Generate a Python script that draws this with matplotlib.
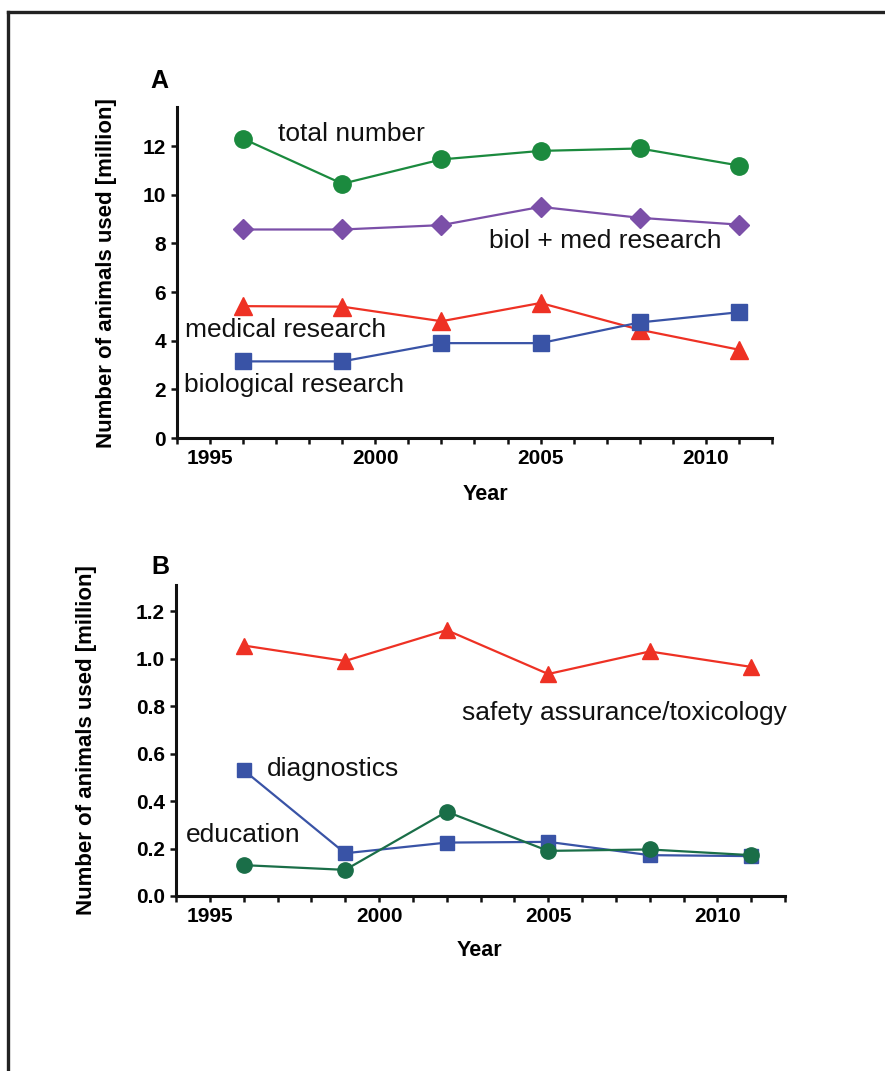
import matplotlib
matplotlib.use("Agg")
import matplotlib.pyplot as plt
from matplotlib.lines import Line2D
from matplotlib.ticker import MultipleLocator

plt.rcParams['font.family'] = ['Liberation Sans', 'DejaVu Sans']

years = [1996, 1999, 2002, 2005, 2008, 2011]

# Panel A (million animals)
total_number = [12.3, 10.45, 11.45, 11.8, 11.9, 11.2]
biol_med = [8.57, 8.57, 8.75, 9.5, 9.05, 8.77]
medical = [5.42, 5.4, 4.8, 5.55, 4.45, 3.63]
biological = [3.15, 3.15, 3.9, 3.9, 4.75, 5.17]

# Panel B (million animals)
safety_tox = [1.055, 0.99, 1.12, 0.935, 1.03, 0.965]
diagnostics = [0.53, 0.18, 0.225, 0.228, 0.172, 0.168]
education = [0.13, 0.11, 0.355, 0.19, 0.196, 0.172]

GREEN = '#1b8a3e'
GREEN_B = '#1a6e48'
PURPLE = '#7b4fa8'
RED = '#ee3124'
BLUE = '#3953a6'

fig = plt.figure(figsize=(8.85, 10.71), dpi=100)

# outer frame lines (top and left)
fig.add_artist(Line2D([8 / 885, 1.0], [1 - 12 / 1071, 1 - 12 / 1071],
                      color='#222222', lw=2.4, transform=fig.transFigure))
fig.add_artist(Line2D([8 / 885, 8 / 885], [0.0, 1 - 12 / 1071],
                      color='#222222', lw=2.4, transform=fig.transFigure))

axA = fig.add_axes([0.200, 0.591, 0.6723, 0.309])
axB = fig.add_axes([0.1989, 0.1634, 0.6881, 0.2904])


def style_axes(ax, ymax, ystep, fmt):
    for s in ('top', 'right'):
        ax.spines[s].set_visible(False)
    for s in ('left', 'bottom'):
        ax.spines[s].set_linewidth(2.2)
        ax.spines[s].set_color('#111111')
    ax.set_xlim(1994, 2012)
    ax.set_ylim(0, ymax)
    ax.xaxis.set_major_locator(MultipleLocator(5))
    ax.xaxis.set_minor_locator(MultipleLocator(1))
    ax.yaxis.set_major_locator(MultipleLocator(ystep))
    ax.tick_params(which='both', direction='out', length=4, width=1.8,
                   color='#111111')
    ax.tick_params(axis='both', labelsize=15, pad=4)
    ax.yaxis.set_major_formatter(fmt)
    ax.set_xlabel('Year', fontsize=15.5, fontweight='bold')
    ax.set_ylabel('Number of animals used [million]', fontsize=16,
                  fontweight='bold')
    ax.set_facecolor('none')


style_axes(axA, 13.6, 2, '{x:.0f}')
style_axes(axB, 1.31, 0.2, '{x:.1f}')
for lab in axA.get_xticklabels() + axA.get_yticklabels() + \
        axB.get_xticklabels() + axB.get_yticklabels():
    lab.set_fontweight('bold')

axA.yaxis.set_label_coords(-0.101, 0.5)
axA.xaxis.set_label_coords(0.518, -0.139)
axB.yaxis.set_label_coords(-0.130, 0.5)
axB.xaxis.set_label_coords(0.4975, -0.141)

lw = 1.6
axA.plot(years, total_number, '-o', color=GREEN, lw=lw, ms=12.5, mec=GREEN)
axA.plot(years, biol_med, '-D', color=PURPLE, lw=lw, ms=10, mec=PURPLE)
axA.plot(years, medical, '-^', color=RED, lw=lw, ms=12.5, mec=RED)
axA.plot(years, biological, '-s', color=BLUE, lw=lw, ms=11.5, mec=BLUE)

axB.plot(years, safety_tox, '-^', color=RED, lw=lw, ms=11.5, mec=RED)
axB.plot(years, diagnostics, '-s', color=BLUE, lw=lw, ms=10.5, mec=BLUE)
axB.plot(years, education, '-o', color=GREEN_B, lw=lw, ms=11, mec=GREEN_B)

tkw = dict(fontsize=19, va='center', ha='left', color='#111111')
axA.text(1997.05, 12.5, 'total number', **tkw)
axA.text(2003.45, 8.1, 'biol + med research', **tkw)
axA.text(1994.25, 4.45, 'medical research', **tkw)
axA.text(1994.2, 2.19, 'biological research', **tkw)

axB.text(2002.45, 0.77, 'safety assurance/toxicology', **tkw)
axB.text(1996.7, 0.534, 'diagnostics', **tkw)
axB.text(1994.3, 0.257, 'education', **tkw)

axA.text(-0.029, 1.08, 'A', transform=axA.transAxes, fontsize=18,
         fontweight='bold', ha='center', va='center')
axB.text(-0.026, 1.058, 'B', transform=axB.transAxes, fontsize=18,
         fontweight='bold', ha='center', va='center')

fig.savefig('out.png', dpi=100, facecolor='white')
